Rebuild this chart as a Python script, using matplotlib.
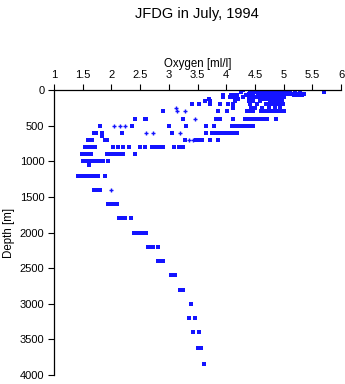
import matplotlib
matplotlib.use("Agg")
import matplotlib.pyplot as plt

# sampling depths [m] and oxygen readings [ml/l] at each depth (square markers)
levels = [0, 10, 25, 35, 50, 75, 100, 125, 150, 200, 250, 300, 400, 500, 600, 650,
          700, 800, 900, 1000, 1050, 1200, 1400, 1600, 1800, 2000, 2200, 2400,
          2600, 2800, 3000, 3200, 3400, 3620, 3850]
oxygen = [
    [4.30, 4.45, 4.48, 4.52, 4.55, 4.58, 4.62, 4.65, 4.68, 4.72, 4.75, 4.78, 4.82, 4.85, 4.88, 4.92, 4.95, 4.98],
    [4.42, 4.50, 4.56, 4.60, 4.66, 4.70, 4.74, 4.80, 4.86, 4.90, 4.96, 5.00],
    [4.25, 4.48, 4.55, 4.62, 4.70, 4.78, 4.85, 4.92, 5.00, 5.05, 5.12, 5.20, 5.28],
    [5.70],
    [4.40, 4.46, 4.55, 4.65, 4.72, 4.80, 4.88, 4.95, 5.02, 5.10, 5.15, 5.22, 5.30, 5.35],
    [3.95, 4.08, 4.12, 4.18, 4.35, 4.45, 4.55, 4.62, 4.70, 4.78, 4.85, 4.92, 5.00, 5.18, 5.25, 5.32],
    [3.94, 4.07, 4.12, 4.18, 4.30, 4.40, 4.45, 4.50, 4.57, 4.62, 4.65, 4.75, 4.80, 4.85, 4.90, 4.95, 5.00],
    [3.70, 4.17, 4.20, 4.62, 4.70, 4.78, 4.85, 4.92],
    [3.63, 3.71, 4.15, 4.39, 4.47, 4.59, 4.76, 4.80, 4.85, 4.90, 4.97],
    [3.40, 3.53, 3.71, 3.90, 4.04, 4.11, 4.41, 4.54, 4.69, 4.75, 4.80, 4.85, 4.90, 4.95, 4.99],
    [4.12, 4.44, 4.50, 4.63, 4.75, 4.85, 4.94],
    [2.90, 3.85, 4.02, 4.37, 4.42, 4.47, 4.61, 4.66, 4.71, 4.76, 4.81, 4.87, 4.93, 5.01],
    [2.41, 2.59, 2.61, 3.25, 3.83, 3.89, 4.11, 4.33, 4.38, 4.43, 4.48, 4.53, 4.58, 4.63, 4.68, 4.71, 4.86],
    [1.81, 2.36, 3.00, 3.30, 3.65, 3.79, 4.10, 4.14, 4.18, 4.22, 4.26, 4.30, 4.34, 4.38, 4.42, 4.46],
    [1.69, 1.72, 1.74, 1.84, 2.19, 3.06, 3.64, 3.75, 3.80, 3.85, 3.90, 3.95, 4.00, 4.05, 4.10, 4.15, 4.19],
    [1.84],
    [1.60, 1.67, 1.88, 1.93, 3.28, 3.47, 3.51, 3.55, 3.57, 3.71, 3.85],
    [1.54, 1.57, 1.60, 1.63, 1.66, 1.69, 1.71, 2.02, 2.11, 2.21, 2.31, 2.49, 2.59, 2.70, 2.74, 2.78, 2.82, 2.86, 2.90, 3.09, 3.17, 3.24],
    [1.48, 1.52, 1.56, 1.60, 1.64, 1.92, 1.96, 2.00, 2.04, 2.08, 2.12, 2.16, 2.21, 2.41],
    [1.50, 1.54, 1.58, 1.62, 1.66, 1.70, 1.74, 1.78, 1.82, 1.86, 1.94],
    [1.61],
    [1.42, 1.45, 1.48, 1.51, 1.54, 1.57, 1.60, 1.63, 1.66, 1.70, 1.74, 1.77, 1.89],
    [1.70, 1.74, 1.77, 1.80],
    [1.94, 1.98, 2.02, 2.06, 2.09],
    [2.13, 2.17, 2.24, 2.35],
    [2.40, 2.44, 2.48, 2.53, 2.61],
    [2.64, 2.68, 2.72, 2.82],
    [2.82, 2.86, 2.90],
    [3.04, 3.08, 3.11],
    [3.20, 3.24],
    [3.39],
    [3.35, 3.46],
    [3.43, 3.53],
    [3.50, 3.56],
    [3.61],
]

# readings drawn with plus markers
plus_depth = [250, 300, 300, 400, 500, 500, 500, 600, 600, 600, 700, 700, 1400]
plus_oxygen = [3.13, 3.15, 3.28, 3.46, 2.05, 2.15, 2.24, 2.61, 2.72, 3.20, 3.35, 3.43, 1.99]

xticks = [1, 1.5, 2, 2.5, 3, 3.5, 4, 4.5, 5, 5.5, 6]
xticklabels = ["1", "1.5", "2", "2.5", "3", "3.5", "4", "4.5", "5", "5.5", "6"]
yticks = [0, 500, 1000, 1500, 2000, 2500, 3000, 3500, 4000]

sq_x = []
sq_y = []
for d, vals in zip(levels, oxygen):
    for v in vals:
        sq_x.append(v)
        sq_y.append(d)

plt.rcParams['font.family'] = ['Liberation Sans', 'DejaVu Sans']
blue = '#1414ff'

fig = plt.figure(figsize=(3.45, 3.84), dpi=100)
ax = fig.add_axes([54 / 345, 1 - 375 / 384, 287 / 345, 285 / 384])

ax.plot(sq_x, sq_y, linestyle='none', marker='s', markersize=2.2, mew=0, color=blue)
ax.plot(plus_oxygen, plus_depth, linestyle='none', marker='+', markersize=3.5, mew=1.0, color=blue)

ax.set_xlim(1, 6)
ax.set_ylim(4000, 0)
ax.xaxis.tick_top()
ax.xaxis.set_label_position('top')
ax.set_xticks(xticks)
ax.set_xticklabels(xticklabels)
ax.set_yticks(yticks)
ax.tick_params(direction='out', length=4, width=0.8, labelsize=8, pad=3, colors='black')
ax.spines['right'].set_visible(False)
ax.spines['bottom'].set_visible(False)
ax.spines['top'].set_linewidth(0.9)
ax.spines['left'].set_linewidth(0.9)

ax.set_xlabel('Oxygen [ml/l]', fontsize=8.3, labelpad=2)
ax.set_ylabel('Depth [m]', fontsize=8.3, labelpad=3)
fig.text(197 / 345, 1 - 14 / 384, 'JFDG in July, 1994', ha='center', va='center', fontsize=10.5)

fig.savefig('out.png', dpi=100)
